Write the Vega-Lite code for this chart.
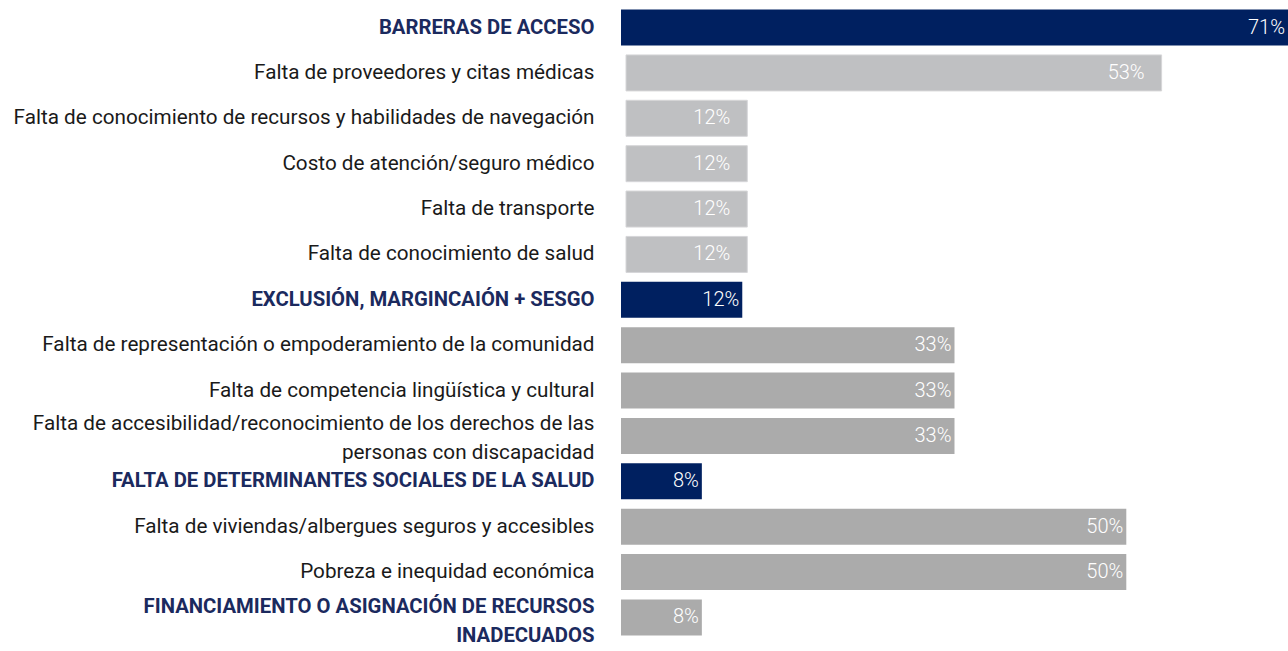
{
  "$schema": "https://vega.github.io/schema/vega-lite/v6.json",
  "autosize": {"type": "none"},
  "padding": {"left": 621, "top": 0, "right": 0, "bottom": 6},
  "width": 667,
  "height": 645,
  "background": "white",
  "config": {"view": {"stroke": null}, "font": "Roboto"},
  "data": {"values": [
    {"cat": "BARRERAS DE ACCESO", "pct": 0.71, "grp": "header"},
    {"cat": "Falta de proveedores y citas médicas", "pct": 0.53, "grp": "sub1"},
    {"cat": "Falta de conocimiento de recursos y habilidades de navegación", "pct": 0.12, "grp": "sub1"},
    {"cat": "Costo de atención/seguro médico", "pct": 0.12, "grp": "sub1"},
    {"cat": "Falta de transporte", "pct": 0.12, "grp": "sub1"},
    {"cat": "Falta de conocimiento de salud", "pct": 0.12, "grp": "sub1"},
    {"cat": "EXCLUSIÓN, MARGINCAIÓN + SESGO", "pct": 0.12, "grp": "header"},
    {"cat": "Falta de representación o empoderamiento de la comunidad", "pct": 0.33, "grp": "sub"},
    {"cat": "Falta de competencia lingüística y cultural", "pct": 0.33, "grp": "sub"},
    {"cat": "Falta de accesibilidad/reconocimiento de los derechos de las personas con discapacidad", "pct": 0.33, "grp": "sub"},
    {"cat": "FALTA DE DETERMINANTES SOCIALES DE LA SALUD", "pct": 0.08, "grp": "header"},
    {"cat": "Falta de viviendas/albergues seguros y accesibles", "pct": 0.50, "grp": "sub"},
    {"cat": "Pobreza e inequidad económica", "pct": 0.50, "grp": "sub"},
    {"cat": "FINANCIAMIENTO O ASIGNACIÓN DE RECURSOS INADECUADOS", "pct": 0.08, "grp": "sub"}
  ]},
  "encoding": {
    "y": {
      "field": "cat", "type": "nominal",
      "sort": [
        "BARRERAS DE ACCESO",
        "Falta de proveedores y citas médicas",
        "Falta de conocimiento de recursos y habilidades de navegación",
        "Costo de atención/seguro médico",
        "Falta de transporte",
        "Falta de conocimiento de salud",
        "EXCLUSIÓN, MARGINCAIÓN + SESGO",
        "Falta de representación o empoderamiento de la comunidad",
        "Falta de competencia lingüística y cultural",
        "Falta de accesibilidad/reconocimiento de los derechos de las personas con discapacidad",
        "FALTA DE DETERMINANTES SOCIALES DE LA SALUD",
        "Falta de viviendas/albergues seguros y accesibles",
        "Pobreza e inequidad económica",
        "FINANCIAMIENTO O ASIGNACIÓN DE RECURSOS INADECUADOS"
      ],
      "scale": {"paddingInner": 0.206, "paddingOuter": 0.21},
      "axis": {
        "title": null, "domain": false, "ticks": false, "tickSize": 0,
        "labelPadding": 27, "labelFont": "Roboto",
        "labelLimit": 700, "labelLineHeight": 29,
        "labelFontSize": {"condition": {"test": "datum.value === upper(datum.value)", "value": 20.3}, "value": 20.7},
        "labelColor": {"condition": {"test": "datum.value === upper(datum.value)", "value": "#1b2a5e"}, "value": "#1a1a1a"},
        "labelFontWeight": {"condition": {"test": "datum.value === upper(datum.value)", "value": "bold"}, "value": "normal"},
        "labelOffset": {"condition": [
          {"test": "indexof(datum.value, 'discapacidad') >= 0", "value": -12},
          {"test": "indexof(datum.value, 'INADECUADOS') >= 0", "value": -10}
        ], "value": 0},
        "labelExpr": "datum.value == 'Falta de accesibilidad/reconocimiento de los derechos de las personas con discapacidad' ? ['Falta de accesibilidad/reconocimiento de los derechos de las', 'personas con discapacidad'] : datum.value == 'FINANCIAMIENTO O ASIGNACIÓN DE RECURSOS INADECUADOS' ? ['FINANCIAMIENTO O ASIGNACIÓN DE RECURSOS', 'INADECUADOS'] : datum.value"
      }
    }
  },
  "layer": [
    {
      "transform": [{"filter": "datum.grp === 'sub1'"}],
      "mark": {"type": "bar", "xOffset": 5, "x2Offset": 5, "color": "#bfc0c2", "stroke": "#d6d6d8", "strokeWidth": 1},
      "encoding": {"x": {"field": "pct", "type": "quantitative", "scale": {"domain": [0, 0.66], "clamp": true}, "axis": null}}
    },
    {
      "transform": [{"filter": "datum.grp !== 'sub1'"}],
      "mark": {"type": "bar"},
      "encoding": {
        "x": {"field": "pct", "type": "quantitative", "scale": {"domain": [0, 0.66], "clamp": true}, "axis": null},
        "color": {"field": "grp", "type": "nominal", "scale": {"domain": ["header", "sub"], "range": ["#002060", "#ababab"]}, "legend": null}
      }
    },
    {
      "transform": [{"filter": "datum.grp === 'sub1'"}],
      "mark": {"type": "text", "align": "right", "baseline": "middle", "dx": -12, "color": "white", "font": "Roboto", "fontSize": 20, "fontWeight": 300},
      "encoding": {
        "x": {"field": "pct", "type": "quantitative", "scale": {"domain": [0, 0.66], "clamp": true}, "axis": null},
        "text": {"field": "pct", "type": "quantitative", "format": ".0%"}
      }
    },
    {
      "transform": [{"filter": "datum.grp !== 'sub1'"}],
      "mark": {"type": "text", "align": "right", "baseline": "middle", "dx": -3, "color": "white", "font": "Roboto", "fontSize": 20, "fontWeight": 300},
      "encoding": {
        "x": {"field": "pct", "type": "quantitative", "scale": {"domain": [0, 0.66], "clamp": true}, "axis": null},
        "text": {"field": "pct", "type": "quantitative", "format": ".0%"}
      }
    }
  ]
}
